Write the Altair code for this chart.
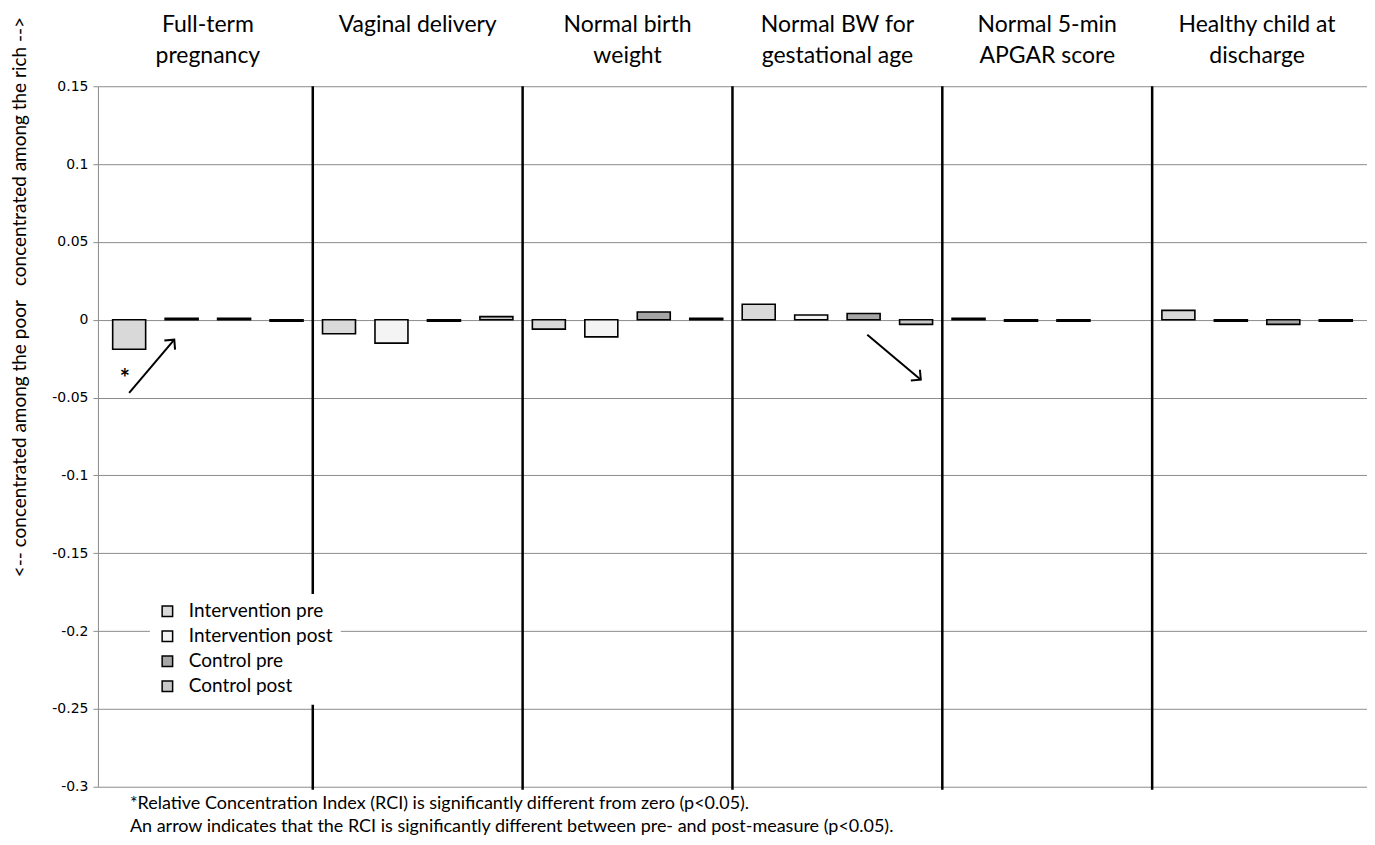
import math
import altair as alt
import pandas as pd

# ---------------- data ----------------
groups = ["Full-term\npregnancy", "Vaginal delivery", "Normal birth\nweight",
          "Normal BW for\ngestational age", "Normal 5-min\nAPGAR score",
          "Healthy child at\ndischarge"]
series = ["Intervention pre", "Intervention post", "Control pre", "Control post"]
intervention_pre = [-0.019, -0.009, -0.006, 0.010, 0.001, 0.006]
intervention_post = [0.001, -0.015, -0.011, 0.003, -0.001, -0.001]
control_pre = [0.001, -0.001, 0.005, 0.004, -0.001, -0.003]
control_post = [-0.001, 0.002, 0.001, -0.003, None, -0.001]
y_ticks = [0.15, 0.1, 0.05, 0, -0.05, -0.1, -0.15, -0.2, -0.25, -0.3]
series_fills = ["#d9d9d9", "#f4f4f4", "#a6a6a6", "#c8c8c8"]
y_title = "<-- concentrated among the poor\u00a0\u00a0\u00a0concentrated among the rich -->"
footnotes = ["*Relative Concentration Index (RCI) is significantly different from zero (p<0.05).",
             "An arrow indicates that the RCI is significantly different between pre- and post-measure (p<0.05)."]
# significance annotations (bar-slot units on x, RCI units on y)
arrow_x = [0.50, 14.57]
arrow_y = [-0.047, -0.0096]
arrow_x2 = [1.36, 15.59]
arrow_y2 = [-0.0128, -0.0385]
star_x = [0.42]
star_y = [-0.039]

n_slots = len(groups) * len(series)
rows = []
for si, (s, vals) in enumerate(zip(series, [intervention_pre, intervention_post,
                                            control_pre, control_post])):
    for gi, (g, v) in enumerate(zip(groups, vals)):
        if v is not None:
            rows.append({"grp": g, "series": s, "value": v,
                         "slot": gi * len(series) + si + 0.5})
df = pd.DataFrame(rows)
hdr_df = pd.DataFrame({"label": groups,
                       "slot": [gi * len(series) + len(series) / 2 for gi in range(len(groups))]})
sep_df = pd.DataFrame({"slot": [gi * len(series) for gi in range(1, len(groups))]})
arrow_df = pd.DataFrame({"x": arrow_x, "y": arrow_y, "x2": arrow_x2, "y2": arrow_y2})
star_df = pd.DataFrame({"x": star_x, "y": star_y})
one = pd.DataFrame({"k": [0]})

W, H = 1270, 701
FONT = "Lato"
xscale = alt.Scale(domain=[0, n_slots], nice=False, zero=False)
yscale = alt.Scale(domain=[-0.3, 0.15], nice=False, zero=False)
yaxis = alt.Axis(values=y_ticks, format=".2~f",
                 labelExpr="replace(datum.label, '\u2212', '-')",
                 grid=True, gridColor="#8c8c8c",
                 domainColor="#8c8c8c", tickColor="#8c8c8c", tickSize=5,
                 labelFont="DejaVu Sans", labelFontSize=14, labelColor="black",
                 labelPadding=5, title=None)

bars = alt.Chart(df).mark_bar(width=33, stroke="black", strokeWidth=1.6).encode(
    x=alt.X("slot:Q", scale=xscale, axis=None),
    y=alt.Y("value:Q", scale=yscale, axis=yaxis),
    fill=alt.Fill("series:N", sort=series,
                  scale=alt.Scale(domain=series, range=series_fills),
                  legend=alt.Legend(orient="none", legendX=52, legendY=508, title=None,
                                    fillColor="white", padding=8,
                                    labelFont=FONT, labelFontSize=19, labelColor="black",
                                    symbolType="square", symbolSize=110,
                                    rowPadding=5, labelOffset=12)),
)

seps = alt.Chart(sep_df).mark_rule(color="black", strokeWidth=2.5).encode(
    x=alt.X("slot:Q", scale=xscale, axis=None),
    y=alt.value(0), y2=alt.value(H + 3),
)

headers = alt.Chart(hdr_df).mark_text(font=FONT, fontSize=23, lineBreak="\n",
                                      lineHeight=31, baseline="alphabetic",
                                      align="center", color="black").encode(
    x=alt.X("slot:Q", scale=xscale, axis=None),
    y=alt.value(-54),
    text="label:N",
)

ytitle = alt.Chart(one).mark_text(text=y_title, font=FONT, fontSize=19, angle=270,
                                  align="center", baseline="middle",
                                  color="black").encode(
    x=alt.value(-78), y=alt.value(211))

arrows = alt.Chart(arrow_df).mark_rule(color="black", strokeWidth=2).encode(
    x=alt.X("x:Q", scale=xscale, axis=None), y=alt.Y("y:Q", scale=yscale, axis=yaxis),
    x2="x2:Q", y2="y2:Q")

# arrow heads: angle from the on-screen direction of each arrow
px_per_x = W / n_slots
px_per_y = H / 0.45
head_layers = []
for i in range(len(arrow_x)):
    ang = math.degrees(math.atan2((arrow_x2[i] - arrow_x[i]) * px_per_x,
                                  (arrow_y2[i] - arrow_y[i]) * px_per_y))
    ang = ang % 360
    head_layers.append(
        alt.Chart(arrow_df.iloc[[i]]).mark_point(
            shape="M -1 1 L 0 0 L 1 1", filled=False, stroke="black",
            strokeWidth=2, size=200, opacity=1, angle=round(ang, 1)).encode(
            x=alt.X("x2:Q", scale=xscale, axis=None),
            y=alt.Y("y2:Q", scale=yscale, axis=yaxis)))

star = alt.Chart(star_df).mark_text(text="*", font=FONT, fontSize=24, fontWeight="bold",
                                    baseline="middle", color="black").encode(
    x=alt.X("x:Q", scale=xscale, axis=None), y=alt.Y("y:Q", scale=yscale, axis=yaxis))

foot1 = alt.Chart(one).mark_text(text=footnotes[0], font=FONT, fontSize=18, align="left",
                                 baseline="alphabetic", color="black").encode(
    x=alt.value(32), y=alt.value(723))
foot2 = alt.Chart(one).mark_text(text=footnotes[1], font=FONT, fontSize=18, align="left",
                                 baseline="alphabetic", color="black").encode(
    x=alt.value(32), y=alt.value(746))

chart = alt.layer(seps, bars, arrows, *head_layers, star, headers, ytitle,
                  foot1, foot2).properties(
    width=W, height=H,
    autosize=alt.AutoSizeParams(type="none"),
    padding={"left": 90, "top": 78, "right": 0, "bottom": 55},
).configure_view(stroke=None)

chart.save("out.html", embed_options={"renderer": "svg", "actions": False})
